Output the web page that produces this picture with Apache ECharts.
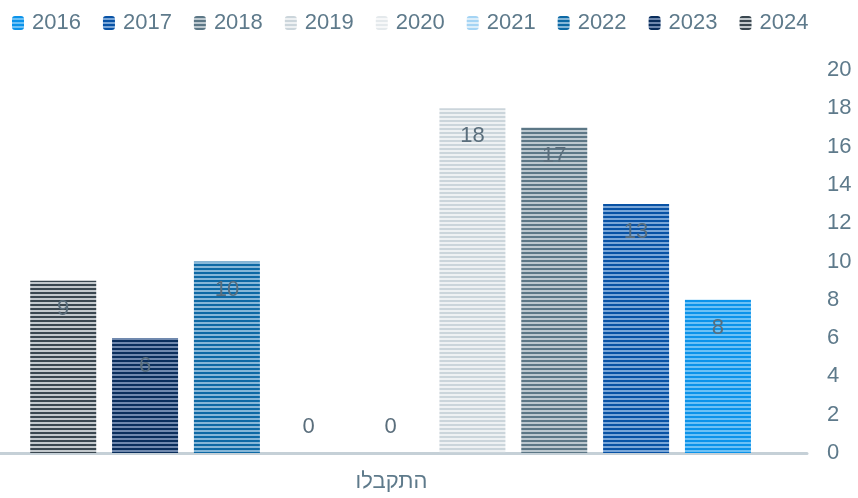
<!DOCTYPE html>
<html>
<head>
<meta charset="utf-8">
<script src="https://cdn.jsdelivr.net/npm/echarts@6/dist/echarts.min.js"></script>
<style>
html, body { margin: 0; padding: 0; background: #fff; }
#chart { width: 858px; height: 498px; }
</style>
</head>
<body>
<div id="chart"></div>
<script>
// data
var categories = ['התקבלו'];
var years = ['2016', '2017', '2018', '2019', '2020', '2021', '2022', '2023', '2024'];
var values = [8, 13, 17, 18, 0, 0, 10, 6, 9];
var yTicks = [0, 2, 4, 6, 8, 10, 12, 14, 16, 18, 20];

// stripe colours (dark line, light line) per year
var darkColors = ['#0b93ea', '#0852a5', '#5c7786', '#cbd5db', '#e4e9ec', '#a4d4f4', '#0d69a5', '#0a2e5c', '#3a4750'];
var lightColors = ['#6cc1f6', '#79a6d8', '#bcc8cf', '#eef1f3', '#f7f8f9', '#dceefa', '#86b7d8', '#7089ae', '#c3c9cd'];

function stripe(dark, light) {
    var c = document.createElement('canvas');
    c.width = 4;
    c.height = 4;
    var ctx = c.getContext('2d');
    ctx.fillStyle = dark;
    ctx.fillRect(0, 0, 4, 2);
    ctx.fillStyle = light;
    ctx.fillRect(0, 2, 4, 2);
    return {image: c, repeat: 'repeat'};
}

// series in reverse so 2024 is drawn at the left, like the RTL original
var series = [];
for (var i = years.length - 1; i >= 0; i--) {
    var v = values[i];
    series.push({
        name: years[i],
        type: 'bar',
        barWidth: 66,
        barGap: '24%',
        itemStyle: {color: stripe(darkColors[i], lightColors[i])},
        label: {
            show: true,
            position: v === 0 ? 'top' : 'insideTop',
            distance: v === 0 ? 15 : 17,
            color: '#5a6e7c',
            fontSize: 22,
            fontFamily: 'Liberation Sans'
        },
        data: [v]
    });
}
// empty spacer on the right so the cluster sits a bit left of centre
series.push({name: 'spacer', type: 'bar', barWidth: 10, barGap: '24%', data: ['-'], silent: true});

var option = {
    animation: false,
    textStyle: {fontFamily: 'Liberation Sans'},
    legend: {
        data: years,
        left: 7,
        top: 7,
        itemWidth: 12,
        itemHeight: 14,
        itemGap: 22,
        textStyle: {color: '#5e7a8b', fontSize: 22, padding: [0, 0, 0, 3]}
    },
    grid: {left: 0, right: 51, top: 70, bottom: 45, containLabel: false},
    xAxis: {
        type: 'category',
        data: categories,
        axisLine: {lineStyle: {color: '#c5d0d7', width: 3}},
        axisTick: {show: false},
        axisLabel: {color: '#5e7a8b', fontSize: 22, margin: 18, padding: [0, 24, 0, 0]}
    },
    yAxis: {
        type: 'value',
        position: 'right',
        min: yTicks[0],
        max: yTicks[yTicks.length - 1],
        interval: 2,
        splitLine: {show: false},
        axisLine: {show: false},
        axisTick: {show: false},
        axisLabel: {color: '#5e7a8b', fontSize: 22, margin: 20, align: 'left'}
    },
    series: series
};

var chart = echarts.init(document.getElementById('chart'));
chart.setOption(option);
</script>
</body>
</html>
